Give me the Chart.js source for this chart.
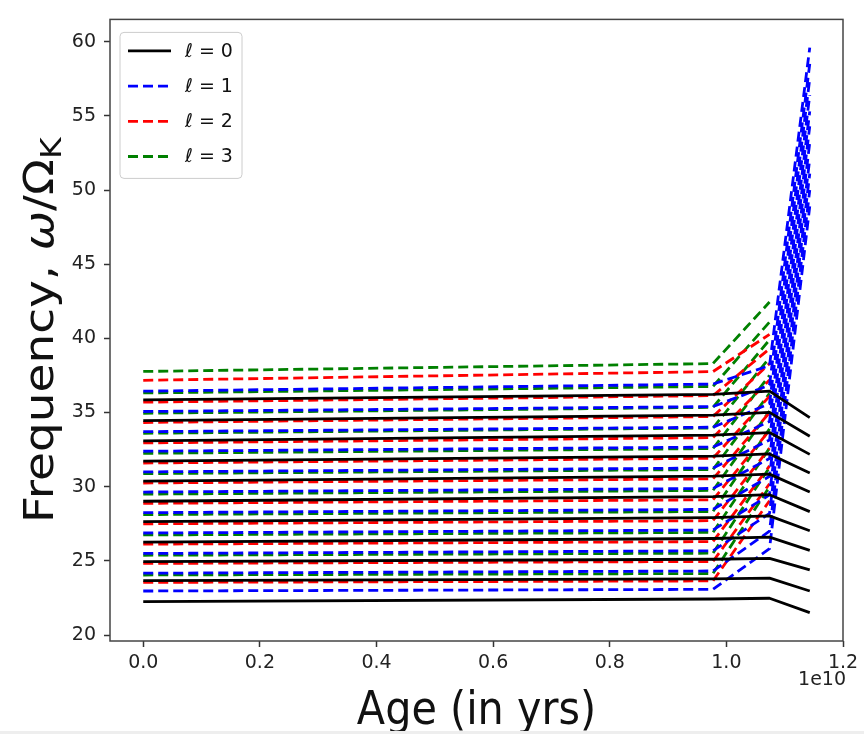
<!DOCTYPE html>
<html>
<head>
<meta charset="utf-8">
<title>Mode frequencies vs age</title>
<script src="https://cdn.jsdelivr.net/npm/chart.js@4.4.1/dist/chart.umd.min.js"></script>
<style>
  html, body { margin: 0; padding: 0; background: #eeeeee; }
  #wrap { width: 864px; height: 731px; background: #ffffff; position: relative; }
</style>
</head>
<body>
<div id="wrap"><canvas id="freqChart"></canvas></div>
<script>
// stellar ages, in units of 1e10 yr
const ages = [0.0, 0.977, 1.074, 1.143];

// omega / Omega_K, one row per radial order, one value per age
const ell0 = [
  [22.26, 22.43, 22.48, 21.51],
  [23.67, 23.79, 23.84, 22.97],
  [24.95, 25.11, 25.17, 24.39],
  [26.27, 26.51, 26.60, 25.71],
  [27.65, 27.92, 28.03, 27.03],
  [29.02, 29.33, 29.46, 28.32],
  [30.38, 30.71, 30.85, 29.64],
  [31.73, 32.06, 32.21, 30.92],
  [33.09, 33.48, 33.65, 32.18],
  [34.46, 34.83, 35.01, 33.40],
  [35.85, 36.23, 36.44, 34.66]
];
const ell1 = [
  [22.97, 23.08, 25.82, 48.9],
  [24.17, 24.32, 27.00, 50.0],
  [25.50, 25.68, 28.20, 51.1],
  [26.88, 27.08, 29.45, 52.1],
  [28.25, 28.47, 30.70, 53.2],
  [29.64, 29.88, 31.90, 54.3],
  [31.00, 31.26, 33.15, 55.3],
  [32.39, 32.67, 34.40, 56.4],
  [33.71, 34.01, 35.60, 57.5],
  [35.07, 35.40, 36.85, 58.5],
  [36.44, 36.92, 38.16, 59.6]
];
// l=2 and l=3 stop at the third age
const ell2 = [
  [23.55, 23.65, 29.05],
  [24.83, 24.96, 30.20],
  [26.13, 26.30, 31.40],
  [27.50, 27.71, 32.60],
  [28.88, 29.12, 33.80],
  [30.25, 30.53, 35.00],
  [31.60, 31.92, 36.10],
  [32.95, 33.31, 37.20],
  [34.33, 34.73, 38.30],
  [35.70, 36.14, 39.30],
  [37.17, 37.76, 40.27]
];
const ell3 = [
  [24.05, 24.15, 30.00],
  [25.38, 25.52, 31.30],
  [26.75, 26.92, 32.60],
  [28.12, 28.33, 33.90],
  [29.50, 29.75, 35.10],
  [30.88, 31.16, 36.30],
  [32.25, 32.57, 37.50],
  [33.60, 33.96, 38.70],
  [34.95, 35.35, 39.90],
  [36.32, 36.76, 41.10],
  [37.77, 38.30, 42.45]
];

const xTicks = [0.0, 0.2, 0.4, 0.6, 0.8, 1.0, 1.2];
const yTicks = [20, 25, 30, 35, 40, 45, 50, 55, 60];
const legendLabels = ['ℓ = 0', 'ℓ = 1', 'ℓ = 2', 'ℓ = 3'];
const lineColors = ['#000000', '#0000ff', '#ff0000', '#008000'];
const xTitle = 'Age (in yrs)';
const offsetText = '1e10';

const FONT = '"DejaVu Sans", "Liberation Sans", sans-serif';
const DASH = [10, 5];
const LW = 2.8;

function makeSets(rows, l) {
  return rows.map(row => ({
    label: legendLabels[l],
    data: row.map((f, i) => ({ x: ages[i], y: f })),
    borderColor: lineColors[l],
    borderWidth: LW,
    borderDash: l === 0 ? [] : DASH,
    borderCapStyle: 'butt',
    borderJoinStyle: 'round',
    pointRadius: 0,
    pointHoverRadius: 0,
    tension: 0,
    fill: false
  }));
}

// first dataset ends up on top, so black goes first
const datasets = [
  ...makeSets(ell0, 0),
  ...makeSets(ell1, 1),
  ...makeSets(ell2, 2),
  ...makeSets(ell3, 3)
];

// axes box on all four sides
const framePlugin = {
  id: 'frame',
  afterDraw(chart) {
    const { ctx, chartArea: a } = chart;
    ctx.save();
    ctx.strokeStyle = '#444';
    ctx.lineWidth = 1.5;
    ctx.strokeRect(a.left, a.top, a.right - a.left, a.bottom - a.top);
    ctx.restore();
  }
};

// legend box in the upper left corner of the plot
const legendPlugin = {
  id: 'cornerLegend',
  afterDraw(chart) {
    const { ctx, chartArea: a } = chart;
    const bx = a.left + 10, by = a.top + 13, bw = 122, bh = 146;
    ctx.save();
    ctx.beginPath();
    ctx.roundRect(bx, by, bw, bh, 4);
    ctx.fillStyle = 'rgba(255,255,255,0.85)';
    ctx.fill();
    ctx.strokeStyle = '#cccccc';
    ctx.lineWidth = 1;
    ctx.stroke();
    ctx.font = `19px ${FONT}`;
    ctx.textBaseline = 'middle';
    ctx.textAlign = 'left';
    legendLabels.forEach((lab, k) => {
      const y = by + 18.5 + k * 35.2;
      ctx.beginPath();
      ctx.setLineDash(k === 0 ? [] : DASH);
      ctx.strokeStyle = lineColors[k];
      ctx.lineWidth = LW;
      ctx.moveTo(bx + 8, y);
      ctx.lineTo(bx + 51, y);
      ctx.stroke();
      ctx.setLineDash([]);
      ctx.fillStyle = '#111';
      ctx.fillText(lab, bx + 65, y + 1);
    });
    ctx.restore();
  }
};

// axis titles and the x offset label
const titlePlugin = {
  id: 'axisTitles',
  afterDraw(chart) {
    const { ctx, chartArea: a } = chart;
    ctx.save();
    ctx.fillStyle = '#111';

    // x title, a touch condensed
    ctx.save();
    ctx.font = `47px ${FONT}`;
    ctx.textAlign = 'center';
    ctx.textBaseline = 'alphabetic';
    ctx.translate((a.left + a.right) / 2, a.bottom + 83);
    ctx.scale(0.88, 1);
    ctx.fillText(xTitle, 0, 0);
    ctx.restore();

    // y title: Frequency, ω/Ω_K
    const size = 47;
    const parts = [
      { t: 'Frequency, ', f: `${size}px ${FONT}`, dy: 0 },
      { t: 'ω', f: `italic ${size}px ${FONT}`, dy: 0 },
      { t: '/Ω', f: `${size}px ${FONT}`, dy: 0 },
      { t: 'K', f: `${Math.round(size * 0.7)}px ${FONT}`, dy: 9 }
    ];
    let total = 0;
    parts.forEach(p => { ctx.font = p.f; p.w = ctx.measureText(p.t).width; total += p.w; });
    ctx.save();
    ctx.translate(a.left - 57, (a.top + a.bottom) / 2);
    ctx.rotate(-Math.PI / 2);
    ctx.scale(1, 0.88);
    ctx.textAlign = 'left';
    ctx.textBaseline = 'alphabetic';
    let x = -total / 2;
    parts.forEach(p => {
      ctx.font = p.f;
      ctx.fillText(p.t, x, p.dy);
      x += p.w;
    });
    ctx.restore();

    // scale offset under the right end of the x axis
    ctx.font = `19px ${FONT}`;
    ctx.textAlign = 'right';
    ctx.textBaseline = 'top';
    ctx.fillStyle = '#222';
    ctx.fillText(offsetText, a.right + 3, a.bottom + 30);
    ctx.restore();
  }
};

const tickFont = { family: FONT, size: 19 };

new Chart(document.getElementById('freqChart'), {
  type: 'line',
  data: { datasets },
  options: {
    responsive: true,
    maintainAspectRatio: false,
    animation: false,
    events: [],
    layout: { padding: { top: 7, right: 21, bottom: 0, left: 0 } },
    plugins: {
      legend: { display: false },
      tooltip: { enabled: false }
    },
    scales: {
      x: {
        type: 'linear',
        min: -0.057,
        max: 1.2,
        afterBuildTicks: s => { s.ticks = xTicks.map(v => ({ value: v })); },
        afterFit: s => { s.height = 90; },
        border: { display: false },
        grid: { drawOnChartArea: false, drawTicks: true, tickLength: 6, tickWidth: 1.5, tickColor: '#333' },
        ticks: { color: '#222', font: tickFont, padding: 5, maxRotation: 0, autoSkip: false,
                 callback: v => v.toFixed(1) }
      },
      y: {
        type: 'linear',
        min: 19.6,
        max: 61.5,
        afterBuildTicks: s => { s.ticks = yTicks.map(v => ({ value: v })); },
        afterFit: s => { s.width = 110; },
        border: { display: false },
        grid: { drawOnChartArea: false, drawTicks: true, tickLength: 6, tickWidth: 1.5, tickColor: '#333' },
        ticks: { color: '#222', font: tickFont, padding: 8, autoSkip: false,
                 callback: v => String(v) }
      }
    }
  },
  plugins: [framePlugin, legendPlugin, titlePlugin]
});
</script>
</body>
</html>
